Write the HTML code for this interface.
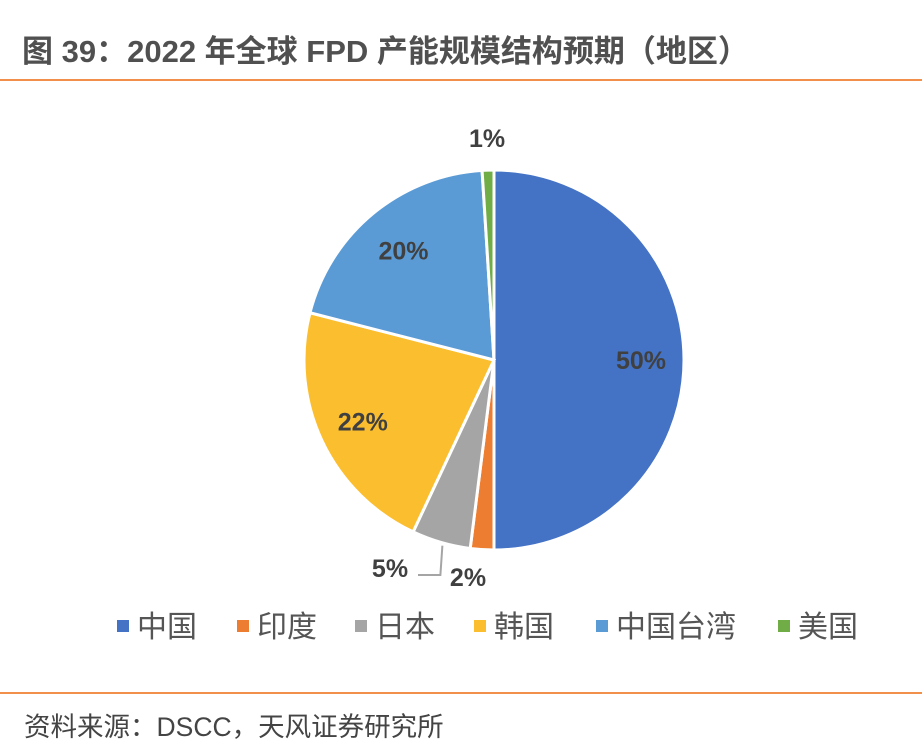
<!DOCTYPE html>
<html><head><meta charset="utf-8">
<style>
html,body{margin:0;padding:0;background:#fff;}
body{width:922px;height:756px;position:relative;overflow:hidden;font-family:"Liberation Sans","Noto Sans CJK SC",sans-serif;}
.title{position:absolute;left:22px;top:26px;font-size:31px;font-weight:bold;color:#505050;white-space:nowrap;}
.rule{position:absolute;left:0;width:922px;height:2px;background:#F0904A;}
.src{position:absolute;left:24px;top:705px;font-size:26.5px;color:#444;white-space:nowrap;}
</style></head>
<body>
<div class="title">图 39：2022 年全球 FPD 产能规模结构预期（地区）</div>
<div class="rule" style="top:79px"></div>
<svg id="chart" width="922" height="756" style="position:absolute;left:0;top:0"></svg>
<div class="rule" style="top:692px"></div>
<div class="src">资料来源：DSCC，天风证券研究所</div>
<script>
const categories = ["中国","印度","日本","韩国","中国台湾","美国"];
const values = [50,2,5,22,20,1];
const labels = ["50%","2%","5%","22%","20%","1%"];
const colors = ["#4472C4","#ED7D31","#A5A5A5","#FBBE2E","#5B9BD5","#70AD47"];
const labelR = [147,225,225,145,142,222];
const legendX = [117,237,355,474,596,778];

const NS="http://www.w3.org/2000/svg";
const svg=document.getElementById('chart');
const cx=494, cy=360, r=190;
const total=values.reduce((a,b)=>a+b,0);
function pt(ang,rad){return [cx+rad*Math.sin(ang), cy-rad*Math.cos(ang)];}
let a0=0;
values.forEach((v,i)=>{
  const a1=a0+v/total*2*Math.PI;
  const p0=pt(a0,r), p1=pt(a1,r);
  const large=(a1-a0)>Math.PI?1:0;
  const path=document.createElementNS(NS,'path');
  path.setAttribute('d',`M${cx},${cy} L${p0[0]},${p0[1]} A${r},${r} 0 ${large} 1 ${p1[0]},${p1[1]} Z`);
  path.setAttribute('fill',colors[i]);
  path.setAttribute('stroke','#fff');
  path.setAttribute('stroke-width','3');
  
  
  svg.appendChild(path);
  const mid=(a0+a1)/2;
  let lp=pt(mid,labelR[i]);
  if(i===2){ lp=[390,568];
    const ln=document.createElementNS(NS,'polyline');
    const e=pt(mid,r-5);
    ln.setAttribute('points',`${e[0]},${e[1]+8} ${e[0]-2},575 418,575`);
    ln.setAttribute('fill','none');ln.setAttribute('stroke','#A5A5A5');ln.setAttribute('stroke-width','2');
    
    
    svg.appendChild(ln);
  }
  if(i===1){ lp=[468,577]; }
  const t=document.createElementNS(NS,'text');
  t.setAttribute('x',lp[0]);t.setAttribute('y',lp[1]+9);
  t.setAttribute('text-anchor','middle');
  t.setAttribute('font-size','25');t.setAttribute('font-weight','bold');
  t.setAttribute('fill','#404040');
  t.setAttribute('font-family','"Liberation Sans",sans-serif');
  t.textContent=labels[i];
  
  
  svg.appendChild(t);
  a0=a1;
});
categories.forEach((c,i)=>{
  const g=document.createElementNS(NS,'g');
  
  
  const s=document.createElementNS(NS,'rect');
  s.setAttribute('x',legendX[i]);s.setAttribute('y',620);s.setAttribute('width',12);s.setAttribute('height',12);
  s.setAttribute('fill',colors[i]);
  g.appendChild(s);
  const t=document.createElementNS(NS,'text');
  t.setAttribute('x',legendX[i]+20);t.setAttribute('y',637);
  t.setAttribute('font-size','30');t.setAttribute('fill','#555');
  t.setAttribute('font-family','"Liberation Sans","Noto Sans CJK SC",sans-serif');
  t.textContent=c;
  g.appendChild(t);
  svg.appendChild(g);
});
</script>
</body></html>
